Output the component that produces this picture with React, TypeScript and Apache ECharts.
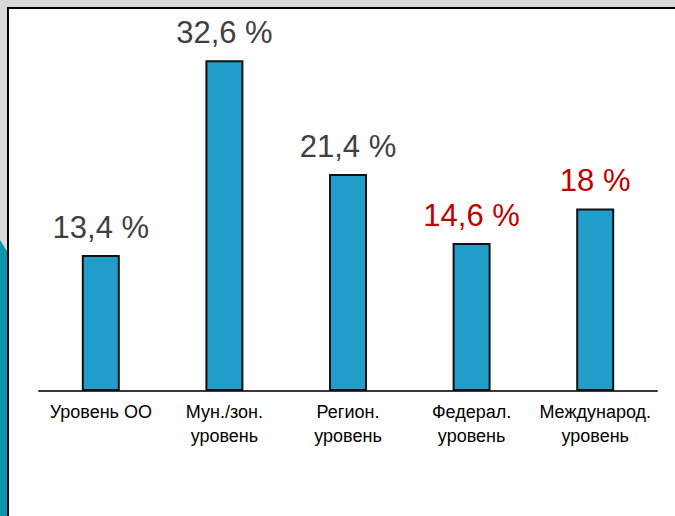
import React, { useEffect, useRef } from "react";
import * as echarts from "echarts";

const categories = [
  "Уровень ОО",
  "Мун./зон.\nуровень",
  "Регион.\nуровень",
  "Федерал.\nуровень",
  "Международ.\nуровень",
];
const values = [13.4, 32.6, 21.4, 14.6, 18];
const highlighted = [false, false, false, true, true];

export default function App() {
  const ref = useRef<HTMLDivElement>(null);
  useEffect(() => {
    if (!ref.current) return;
    const chart = echarts.init(ref.current, null, { renderer: "svg" });
    chart.setOption({
      animation: false,
      backgroundColor: "transparent",
      grid: { left: 39, right: 18, top: 36, bottom: 125 },
      xAxis: {
        type: "category",
        data: categories,
        axisTick: { show: false },
        axisLine: { lineStyle: { color: "#3a3a3a", width: 2 } },
        axisLabel: {
          color: "#000",
          fontFamily: "Liberation Sans, Arial, sans-serif",
          fontSize: 18,
          lineHeight: 24,
          margin: 9,
          interval: 0,
        },
      },
      yAxis: {
        type: "value",
        min: 0,
        max: 35,
        show: false,
        splitLine: { show: false },
      },
      series: [
        {
          type: "bar",
          barWidth: 38,
          data: values.map((v, i) => ({
            value: v,
            label: { color: highlighted[i] ? "#c00000" : "#404040" },
          })),
          itemStyle: { color: "#219dca", borderColor: "#111", borderWidth: 2 },
          label: {
            show: true,
            position: "top",
            distance: 12,
            fontFamily: "Liberation Sans, Arial, sans-serif",
            fontSize: 31,
            formatter: (p: any) => String(p.value).replace(".", ",") + " %",
          },
        },
      ],
    });
    return () => chart.dispose();
  }, []);

  return (
    <div style={{ position: "fixed", left: 0, top: 0, width: 675, height: 516, background: "#d9d9d9", overflow: "hidden" }}>
      <div
        style={{
          position: "absolute",
          left: 0,
          top: 0,
          width: 7,
          height: 516,
          background: "#0a96ac",
          clipPath: "polygon(0px 240px, 7px 251px, 7px 516px, 0px 516px)",
        }}
      />
      <div
        style={{
          position: "absolute",
          left: 7,
          top: 7,
          width: 700,
          height: 600,
          background: "#fff",
          borderTop: "2px solid #000",
          borderLeft: "2px solid #000",
        }}
      />
      <div ref={ref} style={{ position: "absolute", left: 0, top: 0, width: 675, height: 516 }} />
    </div>
  );
}
